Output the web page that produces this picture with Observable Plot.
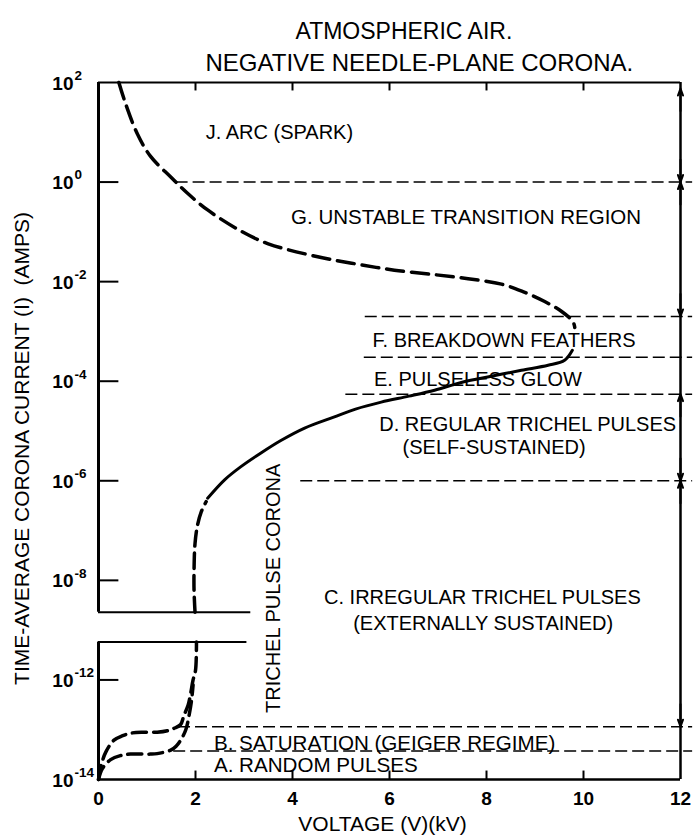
<!DOCTYPE html>
<html><head><meta charset="utf-8">
<script src="https://cdn.jsdelivr.net/npm/d3@7"></script>
<script src="https://cdn.jsdelivr.net/npm/@observablehq/plot@0.6"></script>
<style>body{margin:0;background:#fff}</style>
</head><body><div id="chart"></div>
<script>
// ---- data (voltage in kV, current as log10 of amps) ----
const titleLines = ["ATMOSPHERIC AIR.", "NEGATIVE NEEDLE-PLANE CORONA."];
const xLabel = "VOLTAGE (V)(kV)";
const yLabel = "TIME-AVERAGE CORONA CURRENT (I)  (AMPS)";

const xTicks = [0, 2, 4, 6, 8, 10, 12];
const xInnerTicks = [2, 4, 6, 8, 10];
const yTickLogI = [2, 0, -2, -4, -6, -8, -12, -14];
const yTickBase = "10";
const yTickExp = ["2", "0", "-2", "-4", "-6", "-8", "-12", "-14"];
const yInnerTickLogI = [0, -2, -4, -6, -8, -12];

// axis break: upper panel bottom edge, lower panel top edge
const breakLogI = [-8.64, -11.24];
const breakEndV = [3.14, 3.06];

// upper dashed curve (arc / unstable transition)
const upperDashV = [0.42, 0.56, 0.80, 1.07, 1.49, 1.83, 2.25, 2.93, 3.5, 4.52, 5.34, 6.1, 6.93, 7.62, 8.31, 8.75, 9.2, 9.55, 9.78, 9.82];
const upperDashLogI = [2.0, 1.57, 0.97, 0.52, 0.1, -0.22, -0.56, -0.98, -1.24, -1.5, -1.65, -1.77, -1.86, -1.94, -2.05, -2.2, -2.4, -2.6, -2.8, -2.92];

// solid curve (Trichel pulses to glow)
const solidV = [2.25, 2.6, 2.93, 3.35, 3.76, 4.25, 4.85, 5.3, 5.83, 6.4, 6.93, 7.5, 8.1, 8.72, 9.27, 9.61, 9.77];
const solidLogI = [-6.35, -5.98, -5.72, -5.44, -5.19, -4.94, -4.72, -4.56, -4.42, -4.3, -4.18, -4.02, -3.9, -3.78, -3.68, -3.58, -3.38];

// dashed onset in upper panel
const onsetV = [1.99, 1.97, 1.97, 1.99, 2.04, 2.12, 2.22];
const onsetLogI = [-8.64, -8.2, -7.8, -7.26, -6.9, -6.62, -6.42];

// lower panel curves (B saturation and A random pulses)
const satV = [0, 0.06, 0.15, 0.32, 0.5, 0.66, 0.9, 1.21, 1.42, 1.56, 1.69, 1.76, 1.85, 1.90, 1.95, 2.0, 2.02];
const satLogI = [-14, -13.7, -13.45, -13.21, -13.12, -13.07, -13.05, -13.05, -13.02, -12.97, -12.9, -12.72, -12.5, -12.27, -12.0, -11.81, -11.24];
const randV = [0, 0.08, 0.25, 0.45, 0.66, 1.07, 1.21, 1.49, 1.6, 1.7, 1.8, 1.87, 1.92, 1.95];
const randLogI = [-14, -13.78, -13.6, -13.52, -13.49, -13.49, -13.48, -13.41, -13.33, -13.2, -13.0, -12.7, -12.4, -12.1];

// dashed region boundaries
const boundaryLogI = [0, -2.7, -3.52, -4.26, -6, -12.94, -13.43];
const boundaryStartV = [1.6, 5.5, 5.48, 5.1, 4.17, 1.65, 1.55];
const boundaryEndV = 12.25;

// arrows on the right edge: tip position and direction
const arrowTipLogI = [1.88, 0, 0, -2.7, -4.26, -6, -6, -12.94];
const arrowDir = ["up", "down", "up", "down", "up", "down", "up", "down"];

// region labels
const regionText = ["J. ARC (SPARK)", "G. UNSTABLE TRANSITION REGION", "F. BREAKDOWN FEATHERS", "E. PULSELESS GLOW",
  "D. REGULAR TRICHEL PULSES", "(SELF-SUSTAINED)", "C. IRREGULAR TRICHEL PULSES", "(EXTERNALLY SUSTAINED)",
  "B. SATURATION (GEIGER REGIME)", "A. RANDOM PULSES"];
const regionV = [2.21, 3.97, 5.65, 5.68, 5.79, 6.27, 4.65, 5.25, 2.38, 2.38];
const regionLogI = [1.0, -0.71, -3.18, -3.96, -4.88, -5.34, -8.34, -8.86, -13.27, -13.71];
const regionSize = [20, 20.5, 20, 20, 20, 20, 20, 20, 20.6, 20.6];
const verticalText = "TRICHEL PULSE CORONA";
const verticalV = 3.62;
const verticalLogI = -8.16;
// rotated y-axis title placement (in kV / log10 A)
const yLabelV = -1.57;
const yLabelLogI = -5.35;

// ---- build ----
const brk = L => (L >= -9.5 ? L : L + 2); // broken log axis: lower panel shifted up two decades
const pts = (V, L) => V.map((v, i) => ({v, y: brk(L[i])}));
const FONT = "Liberation Sans, Arial, sans-serif";

const arrows = arrowTipLogI.map((t, i) => ({tip: brk(t), tail: brk(t) + (arrowDir[i] === "up" ? -0.45 : 0.45)}));
const boundaries = boundaryLogI.map((l, i) => ({y: brk(l), x1: boundaryStartV[i], x2: boundaryEndV}));
const breaks = breakLogI.map((l, i) => ({y: brk(l), x2: breakEndV[i]}));
const yTicks = yTickLogI.map((l, i) => ({y: brk(l), exp: yTickExp[i]}));
const regions = regionText.map((t, i) => ({t, v: regionV[i], y: brk(regionLogI[i]), s: regionSize[i]}));

const chart = Plot.plot({
  width: 695, height: 837,
  marginLeft: 98, marginRight: 15, marginTop: 82, marginBottom: 58,
  style: {fontFamily: FONT, background: "#fff", color: "#000"},
  x: {domain: [0, 12], axis: null},
  y: {domain: [-12, 2], axis: null},
  marks: [
    // frame
    Plot.ruleX([0], {y1: brk(2), y2: brk(breakLogI[0]), strokeWidth: 3}),
    Plot.ruleX([0], {y1: brk(breakLogI[1]), y2: brk(-14), strokeWidth: 3}),
    Plot.ruleX([12], {y1: brk(2), y2: brk(-14), strokeWidth: 2.5}),
    Plot.ruleY([brk(2)], {x1: 0, x2: 12, strokeWidth: 2}),
    Plot.ruleY([brk(-14)], {x1: 0, x2: 12, strokeWidth: 2.5}),
    Plot.ruleY(breaks, {y: "y", x1: 0, x2: "x2", strokeWidth: 2}),
    // ticks
    Plot.ruleY(yInnerTickLogI.map(brk), {x1: 0, x2: 0.42, strokeWidth: 2}),
    Plot.ruleX(xInnerTicks, {y1: brk(2), y2: brk(2) - 0.17, strokeWidth: 2}),
    Plot.ruleX(xInnerTicks, {y1: brk(-14), y2: brk(-14) + 0.17, strokeWidth: 2}),
    Plot.text(yTicks, {x: 0, y: "y", text: () => yTickBase, textAnchor: "end", dx: -25, dy: 1, fontSize: 19, fontWeight: "bold"}),
    Plot.text(yTicks, {x: 0, y: "y", text: "exp", textAnchor: "start", dx: -24, dy: -7, fontSize: 13.5, fontWeight: "bold"}),
    Plot.text(xTicks, {x: d => d, y: brk(-14), text: d => String(d), dy: 19, fontSize: 19, fontWeight: "bold"}),
    // region boundaries
    Plot.ruleY(boundaries, {y: "y", x1: "x1", x2: "x2", strokeWidth: 1.5, strokeDasharray: "12,5"}),
    // curves
    Plot.line(pts(upperDashV, upperDashLogI), {x: "v", y: "y", strokeWidth: 3.5, strokeDasharray: "17,8", curve: "catmull-rom"}),
    Plot.line(pts(solidV, solidLogI), {x: "v", y: "y", strokeWidth: 3, curve: "catmull-rom"}),
    Plot.line(pts(onsetV, onsetLogI), {x: "v", y: "y", strokeWidth: 3.5, strokeDasharray: "15,7", curve: "catmull-rom"}),
    Plot.line(pts(satV, satLogI), {x: "v", y: "y", strokeWidth: 3.5, strokeDasharray: "14,7", curve: "catmull-rom"}),
    Plot.line(pts(randV, randLogI), {x: "v", y: "y", strokeWidth: 3.5, strokeDasharray: "14,7", curve: "catmull-rom"}),
    // arrows on right edge
    Plot.arrow(arrows, {x1: 12, x2: 12, y1: "tail", y2: "tip", headLength: 18, headAngle: 40, strokeWidth: 2}),
    // labels
    Plot.text(regions, {x: "v", y: "y", text: "t", textAnchor: "start", fontSize: "s"}),
    Plot.text([verticalText], {x: verticalV, y: brk(verticalLogI), rotate: -90, fontSize: 20}),
    Plot.text([yLabel], {x: yLabelV, y: brk(yLabelLogI), rotate: -90, fontSize: 21}),
    Plot.text([titleLines[0]], {frameAnchor: "top-left", dx: 197, dy: -60, textAnchor: "start", fontSize: 23}),
    Plot.text([titleLines[1]], {frameAnchor: "top-left", dx: 107, dy: -29, textAnchor: "start", fontSize: 24}),
    Plot.text([xLabel], {frameAnchor: "bottom", dx: -7, dy: 51, fontSize: 21})
  ]
});
document.getElementById("chart").append(chart);
</script>
</body></html>
